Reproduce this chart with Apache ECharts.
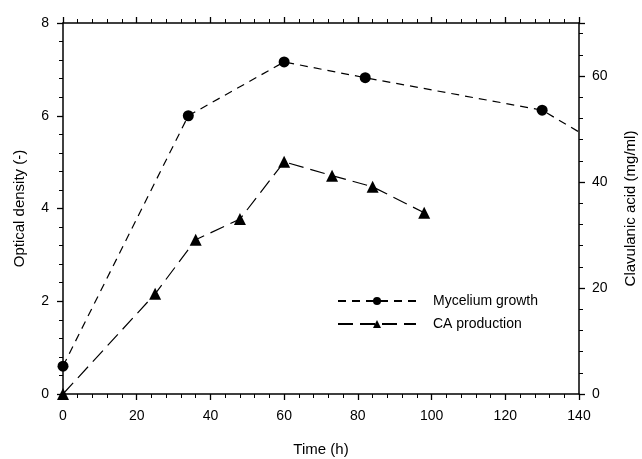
<!DOCTYPE html>
<html><head><meta charset="utf-8">
<script src="https://cdn.jsdelivr.net/npm/echarts@6/dist/echarts.min.js"></script>
<style>html,body{margin:0;padding:0;background:#fff}#c{width:642px;height:459px}</style>
</head><body><div id="c"></div>
<script>
const myceliumTime = [0, 34, 60, 82, 130, 140];
const myceliumOD = [0.6, 6.0, 7.16, 6.82, 6.12, 5.65];
const caTime = [0, 25, 36, 48, 60, 73, 84, 98];
const caValue = [0, 18.9, 29.1, 33.0, 43.8, 41.2, 39.1, 34.2];
const xTicks = [0, 20, 40, 60, 80, 100, 120, 140];

const font = 'Liberation Sans, Arial, sans-serif';
const axisCommon = {
  axisLine: {show: true, onZero: false, lineStyle: {color: '#000', width: 1.5}},
  axisTick: {show: true, inside: false, length: 6, lineStyle: {color: '#000', width: 1.3}},
  minorTick: {show: true, splitNumber: 5, length: 4, lineStyle: {color: '#000', width: 1}},
  splitLine: {show: false},
  axisLabel: {color: '#000', fontFamily: font, fontSize: 14},
  nameTextStyle: {color: '#000', fontFamily: font, fontSize: 15}
};
const chart = echarts.init(document.getElementById('c'));
chart.setOption({
  animation: false,
  backgroundColor: '#fff',
  grid: {left: 63, right: 63, top: 23, bottom: 65, containLabel: false, outerBoundsMode: 'none'},
  legend: {
    left: 332, top: 289, orient: 'vertical', itemWidth: 78, itemHeight: 10, itemGap: 9,
    textStyle: {color: '#000', fontFamily: font, fontSize: 14, padding: [0,0,0,12]},
    data: ['Mycelium growth', 'CA production']
  },
  xAxis: [
    Object.assign({}, axisCommon, {type: 'value', min: 0, max: 140, interval: 20,
      name: 'Time (h)', nameLocation: 'middle', nameGap: 48,
      axisLabel: Object.assign({}, axisCommon.axisLabel, {margin: 15,
        formatter: v => xTicks.includes(v) ? String(v) : ''})}),
    Object.assign({}, axisCommon, {type: 'value', position: 'top', min: 0, max: 140, interval: 20,
      axisLabel: {show: false}})
  ],
  yAxis: [
    Object.assign({}, axisCommon, {type: 'value', min: 0, max: 8, interval: 2,
      name: 'Optical density (-)', nameLocation: 'middle', nameGap: 36,
      axisLabel: Object.assign({}, axisCommon.axisLabel, {margin: 14})}),
    Object.assign({}, axisCommon, {type: 'value', position: 'right', min: 0, max: 70, interval: 20,
      name: 'Clavulanic acid (mg/ml)', nameLocation: 'middle', nameGap: 44,
      axisLabel: Object.assign({}, axisCommon.axisLabel, {margin: 13, showMaxLabel: false, formatter: v => v === 70 ? '' : String(v)})})
  ],
  series: [
    {name: 'Mycelium growth', type: 'line', xAxisIndex: 0, yAxisIndex: 0,
     data: myceliumTime.map((t, i) => ({value: [t, myceliumOD[i]], symbol: i === myceliumTime.length - 1 ? 'none' : 'circle'})),
     symbol: 'circle', symbolSize: 11, itemStyle: {color: '#000'},
     lineStyle: {color: '#000', width: 1.2, type: [8, 6]}},
    {name: 'CA production', type: 'line', xAxisIndex: 0, yAxisIndex: 1,
     data: caTime.map((t, i) => [t, caValue[i]]),
     symbol: 'triangle', symbolSize: 12, itemStyle: {color: '#000'},
     lineStyle: {color: '#000', width: 1.2, type: [15, 7]}}
  ]
});
</script></body></html>
